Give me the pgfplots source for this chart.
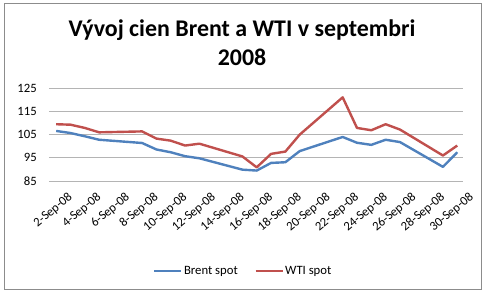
\documentclass[border=0pt]{standalone}
\usepackage{pgfplots}
\pgfplotsset{compat=1.18}
\usepackage{fontspec}
\setmainfont{Carlito}
\definecolor{brent}{HTML}{4F81BD}
\definecolor{wti}{HTML}{C0504D}
\definecolor{gridc}{HTML}{B4B4B4}
\definecolor{framec}{HTML}{8C8C8C}
\begin{document}
\begin{tikzpicture}[x=1pt,y=1pt]
\path[use as bounding box] (0,0) rectangle (485,293);
\draw[framec, line width=0.8pt] (4,4) rectangle (481,290);
\node[anchor=base, font=\fontsize{23.9}{28}\selectfont\bfseries] at (242,257) {Vývoj cien Brent a WTI v septembri};
\node[anchor=base, font=\fontsize{23.9}{28}\selectfont\bfseries] at (242,228) {2008};
\begin{axis}[
  at={(49pt,112pt)}, anchor=south west,
  scale only axis, width=414pt, height=92.7pt,
  xmin=-0.5, xmax=28.4, ymin=85, ymax=125,
  ytick={85,95,105,115,125},
  xtick={0,2,...,28},
  xticklabels={2-Sep-08,4-Sep-08,6-Sep-08,8-Sep-08,10-Sep-08,12-Sep-08,14-Sep-08,16-Sep-08,18-Sep-08,20-Sep-08,22-Sep-08,24-Sep-08,26-Sep-08,28-Sep-08,30-Sep-08},
  axis line style={draw=none},
  major tick length=0pt,
  ymajorgrids, major grid style={gridc, line width=0.9pt},
  /pgf/number format/assume math mode=true,
  tick label style={font=\fontsize{12.7}{15}\selectfont},
  yticklabel style={anchor=east, inner sep=0pt, xshift=-12pt},
  xticklabel style={rotate=40, anchor=east, inner sep=0pt, yshift=-20.5pt, xshift=2pt},
  legend style={at={(axis description cs:0.4686,-0.9676)}, anchor=center, draw=none, fill=none,
    legend columns=2, font=\fontsize{12.7}{15}\selectfont,
    /tikz/every even column/.append style={column sep=15pt},
    nodes={inner sep=1.5pt}},
  legend image code/.code={\draw[#1] (0pt,0pt) -- (27pt,0pt);},
]
\addplot[brent, line width=2.4pt, line join=round] coordinates {
(0,106.6) (1,105.7) (2,104.3) (3,102.8) (6,101.4) (7,98.6) (8,97.4) (9,95.7) (10,94.8)
(13,89.9) (14,89.5) (15,92.8) (16,93.1) (17,97.9) (20,104.0) (21,101.5) (22,100.6)
(23,102.8) (24,101.8) (27,91.1) (28,97.4)};
\addlegendentry{Brent spot}
\addplot[wti, line width=2.4pt, line join=round] coordinates {
(0,109.5) (1,109.3) (2,107.9) (3,106.0) (6,106.4) (7,103.3) (8,102.4) (9,100.3) (10,101.1)
(13,95.6) (14,90.9) (15,96.7) (16,97.7) (17,105.0) (20,121.1) (21,107.9) (22,106.9)
(23,109.5) (24,107.2) (27,96.0) (28,100.3)};
\addlegendentry{WTI spot}
\end{axis}
\end{tikzpicture}
\end{document}
